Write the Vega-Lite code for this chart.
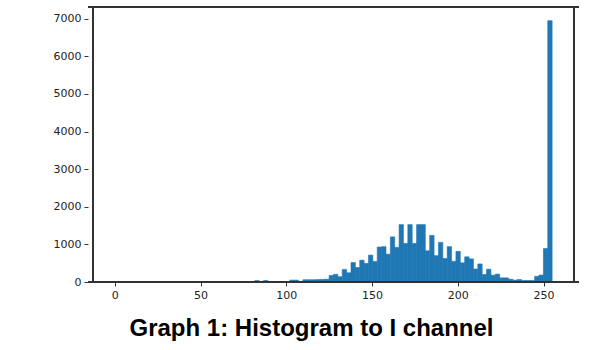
{
  "$schema": "https://vega.github.io/schema/vega-lite/v6.json",
  "autosize": "none",
  "width": 491,
  "height": 275,
  "padding": {"left": 88, "top": 7, "right": 24, "bottom": 68},
  "background": "white",
  "config": {
    "view": {"stroke": null},
    "axis": {"grid": false, "domain": false, "tickColor": "#333", "tickSize": 4, "labelFont": "DejaVu Sans", "labelFontSize": 11, "labelColor": "#222", "labelPadding": 3}
  },
  "title": {"text": "Graph 1: Histogram to I channel", "orient": "bottom", "anchor": "middle", "font": "Liberation Sans", "fontSize": 24, "fontWeight": "bold", "color": "#000", "offset": 17, "dx": -22},
  "data": {"values": [
    {"bin_start": 81.6, "bin_end": 84.15, "count": 40},
    {"bin_start": 86.7, "bin_end": 89.25, "count": 40},
    {"bin_start": 102, "bin_end": 104.55, "count": 50},
    {"bin_start": 104.55, "bin_end": 107.1, "count": 50},
    {"bin_start": 107.1, "bin_end": 109.65, "count": 5},
    {"bin_start": 109.65, "bin_end": 112.2, "count": 60},
    {"bin_start": 112.2, "bin_end": 114.75, "count": 60},
    {"bin_start": 114.75, "bin_end": 117.3, "count": 60},
    {"bin_start": 117.3, "bin_end": 119.85, "count": 65},
    {"bin_start": 119.85, "bin_end": 122.4, "count": 70},
    {"bin_start": 122.4, "bin_end": 124.95, "count": 75},
    {"bin_start": 124.95, "bin_end": 127.5, "count": 175},
    {"bin_start": 127.5, "bin_end": 130.05, "count": 205},
    {"bin_start": 130.05, "bin_end": 132.6, "count": 140},
    {"bin_start": 132.6, "bin_end": 135.15, "count": 335},
    {"bin_start": 135.15, "bin_end": 137.7, "count": 245},
    {"bin_start": 137.7, "bin_end": 140.25, "count": 518},
    {"bin_start": 140.25, "bin_end": 142.8, "count": 385},
    {"bin_start": 142.8, "bin_end": 145.35, "count": 580},
    {"bin_start": 145.35, "bin_end": 147.9, "count": 495},
    {"bin_start": 147.9, "bin_end": 150.45, "count": 715},
    {"bin_start": 150.45, "bin_end": 153, "count": 545},
    {"bin_start": 153, "bin_end": 155.55, "count": 930},
    {"bin_start": 155.55, "bin_end": 158.1, "count": 940},
    {"bin_start": 158.1, "bin_end": 160.65, "count": 740},
    {"bin_start": 160.65, "bin_end": 163.2, "count": 1200},
    {"bin_start": 163.2, "bin_end": 165.75, "count": 920},
    {"bin_start": 165.75, "bin_end": 168.3, "count": 1526},
    {"bin_start": 168.3, "bin_end": 170.85, "count": 1026},
    {"bin_start": 170.85, "bin_end": 173.4, "count": 1526},
    {"bin_start": 173.4, "bin_end": 175.95, "count": 1026},
    {"bin_start": 175.95, "bin_end": 178.5, "count": 1526},
    {"bin_start": 178.5, "bin_end": 181.05, "count": 1526},
    {"bin_start": 181.05, "bin_end": 183.6, "count": 830},
    {"bin_start": 183.6, "bin_end": 186.15, "count": 1240},
    {"bin_start": 186.15, "bin_end": 188.7, "count": 700},
    {"bin_start": 188.7, "bin_end": 191.25, "count": 1053},
    {"bin_start": 191.25, "bin_end": 193.8, "count": 624},
    {"bin_start": 193.8, "bin_end": 196.35, "count": 940},
    {"bin_start": 196.35, "bin_end": 198.9, "count": 550},
    {"bin_start": 198.9, "bin_end": 201.45, "count": 815},
    {"bin_start": 201.45, "bin_end": 204, "count": 510},
    {"bin_start": 204, "bin_end": 206.55, "count": 670},
    {"bin_start": 206.55, "bin_end": 209.1, "count": 615},
    {"bin_start": 209.1, "bin_end": 211.65, "count": 345},
    {"bin_start": 211.65, "bin_end": 214.2, "count": 480},
    {"bin_start": 214.2, "bin_end": 216.75, "count": 200},
    {"bin_start": 216.75, "bin_end": 219.3, "count": 340},
    {"bin_start": 219.3, "bin_end": 221.85, "count": 180},
    {"bin_start": 221.85, "bin_end": 224.4, "count": 210},
    {"bin_start": 224.4, "bin_end": 226.95, "count": 110},
    {"bin_start": 226.95, "bin_end": 229.5, "count": 110},
    {"bin_start": 229.5, "bin_end": 232.05, "count": 75},
    {"bin_start": 232.05, "bin_end": 234.6, "count": 50},
    {"bin_start": 234.6, "bin_end": 237.15, "count": 65},
    {"bin_start": 237.15, "bin_end": 239.7, "count": 40},
    {"bin_start": 239.7, "bin_end": 242.25, "count": 40},
    {"bin_start": 242.25, "bin_end": 244.8, "count": 40},
    {"bin_start": 244.8, "bin_end": 247.35, "count": 150},
    {"bin_start": 247.35, "bin_end": 249.9, "count": 185},
    {"bin_start": 249.9, "bin_end": 252.45, "count": 890},
    {"bin_start": 252.45, "bin_end": 255, "count": 6950}
  ]},
  "layer": [
    {
      "mark": {"type": "bar", "color": "#1f77b4", "stroke": "#1f77b4", "strokeWidth": 0.6, "orient": "vertical"},
      "encoding": {
        "x": {"field": "bin_start", "type": "quantitative", "title": null,
              "scale": {"domain": [-12.75, 267.75], "nice": false, "zero": false},
              "axis": {"values": [0, 50, 100, 150, 200, 250]}},
        "x2": {"field": "bin_end"},
        "y": {"field": "count", "type": "quantitative", "title": null,
              "scale": {"domain": [0, 7313], "nice": false},
              "axis": {"values": [0, 1000, 2000, 3000, 4000, 5000, 6000, 7000], "format": "d"}},
        "y2": {"datum": 0}
      }
    },
    {
      "mark": {"type": "rule", "color": "#333", "strokeWidth": 1},
      "encoding": {"y": {"datum": 0, "type": "quantitative", "axis": null}}
    },
    {
      "mark": {"type": "rule", "color": "#333", "strokeWidth": 1},
      "encoding": {"y": {"datum": 7313, "type": "quantitative", "axis": null}}
    },
    {
      "mark": {"type": "rule", "color": "#333", "strokeWidth": 1},
      "encoding": {"x": {"datum": -12.75, "type": "quantitative", "axis": null}}
    },
    {
      "mark": {"type": "rule", "color": "#333", "strokeWidth": 1},
      "encoding": {"x": {"datum": 267.75, "type": "quantitative", "axis": null}}
    }
  ],
  "resolve": {"axis": {"x": "independent", "y": "independent"}}
}
